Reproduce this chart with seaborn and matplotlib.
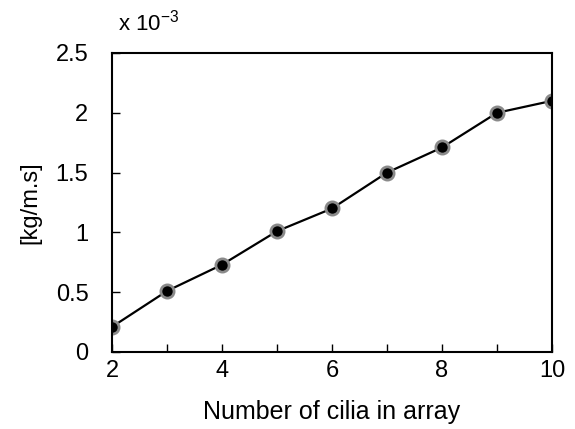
import matplotlib
matplotlib.use("Agg")
import matplotlib.pyplot as plt
import seaborn as sns
import pandas as pd
from matplotlib.ticker import MultipleLocator

cilia = [2, 3, 4, 5, 6, 7, 8, 9, 10]
value = [0.21, 0.51, 0.73, 1.01, 1.2, 1.5, 1.71, 2.0, 2.1]
xticks = [2, 4, 6, 8, 10]
yticks = [0, 0.5, 1, 1.5, 2, 2.5]
yticklabels = ["0", "0.5", "1", "1.5", "2", "2.5"]

sns.set_style("white")
plt.rcParams['font.family'] = ['Liberation Sans', 'DejaVu Sans']
plt.rcParams['text.color'] = 'black'
plt.rcParams['axes.labelcolor'] = 'black'
plt.rcParams['xtick.color'] = 'black'
plt.rcParams['ytick.color'] = 'black'

df = pd.DataFrame({"n": cilia, "v": value})
fig = plt.figure(figsize=(5.75, 4.29), dpi=100)
ax = fig.add_axes([112/575, 1-352/429, 440/575, 299/429])
sns.lineplot(data=df, x="n", y="v", ax=ax, color="black", linewidth=1.6,
             marker="o", markersize=9.5, markerfacecolor="black",
             markeredgecolor="#8a8a8a", markeredgewidth=2.0)
ax.set_xlim(2, 10)
ax.set_ylim(0, 2.5)
ax.set_xticks(xticks)
ax.xaxis.set_minor_locator(MultipleLocator(1))
ax.set_yticks(yticks)
ax.set_yticklabels(yticklabels)
ax.tick_params(axis="both", which="both", direction="in", length=6, width=1,
               labelsize=17, color="black", labelcolor="black",
               bottom=True, left=True, right=False, top=False)
ax.tick_params(axis="x", which="major", pad=6)
ax.tick_params(axis="y", which="major", pad=17)
for s in ax.spines.values():
    s.set_color("black")
    s.set_linewidth(1.5)
ax.set_xlabel("Number of cilia in array", fontsize=18, labelpad=13, color="black")
ax.set_ylabel("[kg/m.s]", fontsize=17, labelpad=10, color="black")
fig.text(118/575, 1-23/429, r"x 10$^{\mathregular{-3}}$", fontsize=16,
         va="center", ha="left", color="black")
fig.savefig("out.png", dpi=100)
